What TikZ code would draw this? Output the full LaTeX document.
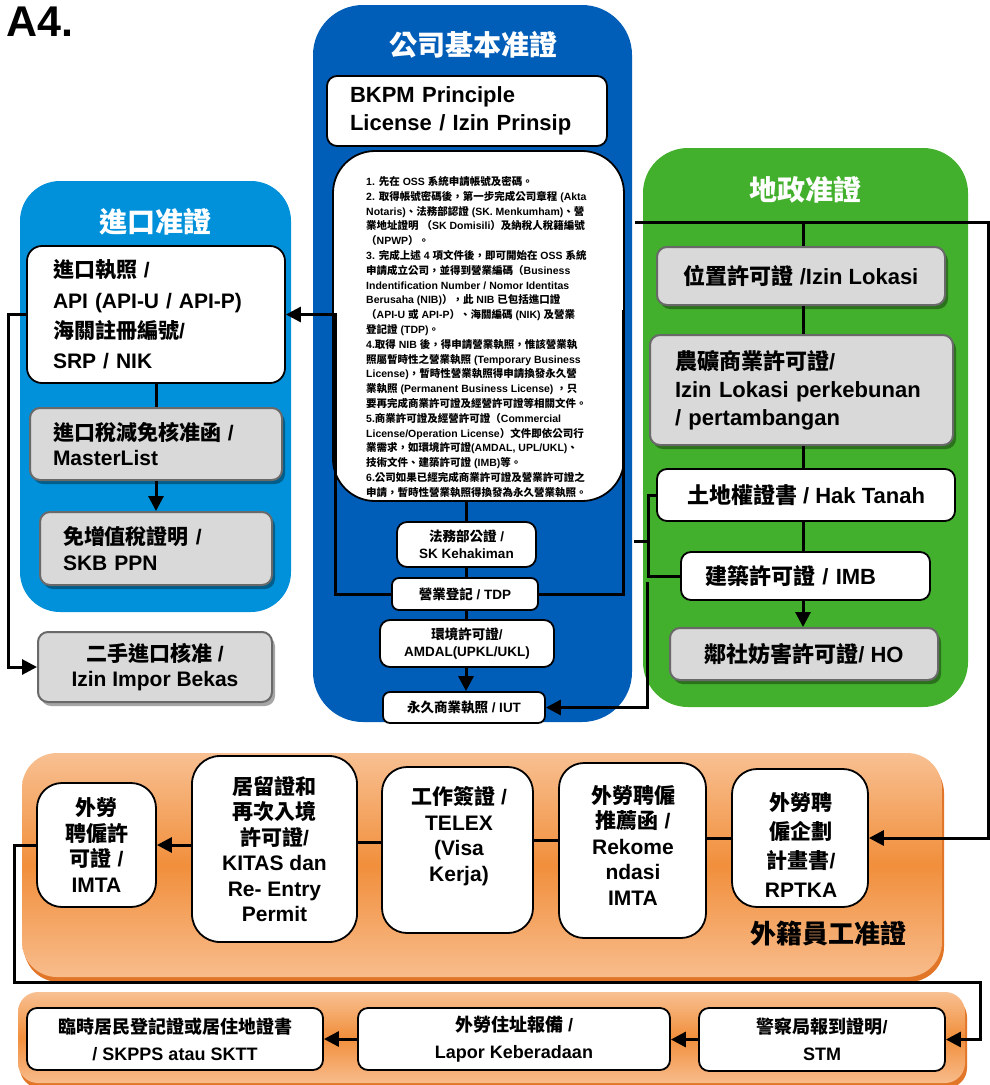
\documentclass[tikz,border=0pt]{standalone}
\usepackage{fontspec}
\setmainfont{Liberation Sans}
\newfontfamily\cjkfont{Noto Sans CJK TC}
\newXeTeXintercharclass\CJKcls
\newcount\cjkcnt
\cjkcnt="2E80
\loop
  \XeTeXcharclass\cjkcnt=\CJKcls
  \advance\cjkcnt by 1
\ifnum\cjkcnt<"A000 \repeat
\cjkcnt="FF00
\loop
  \XeTeXcharclass\cjkcnt=\CJKcls
  \advance\cjkcnt by 1
\ifnum\cjkcnt<"FFF0 \repeat
\XeTeXinterchartoks 0 \CJKcls = {\begingroup\cjkfont}
\XeTeXinterchartoks 4095 \CJKcls = {\begingroup\cjkfont}
\XeTeXinterchartoks \CJKcls 0 = {\endgroup}
\XeTeXinterchartoks \CJKcls 4095 = {\endgroup}
\XeTeXinterchartokenstate=1
\usetikzlibrary{arrows.meta,shadows,calc}
\definecolor{cblue}{RGB}{0,94,184}
\definecolor{lblue}{RGB}{0,145,218}
\definecolor{gpan}{RGB}{66,176,44}
\definecolor{gfill}{RGB}{217,217,217}
\definecolor{gline}{RGB}{105,105,105}
\definecolor{oTop}{RGB}{248,192,146}
\definecolor{oMid}{RGB}{241,143,60}
\definecolor{oBot}{RGB}{248,188,140}
\definecolor{oRim}{RGB}{226,118,40}
\begin{document}
\begin{tikzpicture}[x=1pt,y=-1pt,
  conn/.style={line width=3pt, black},
  arr/.style={conn, -{Triangle[length=15pt,width=15pt]}},
  wbox/.style={draw=black, line width=1.8pt, fill=white, rounded corners=10pt, inner sep=0pt},
  gbox/.style={draw=gline, line width=2pt, fill=gfill, rounded corners=10pt, inner sep=0pt,
     drop shadow={shadow xshift=3pt,shadow yshift=-4pt,opacity=.35,fill=black}},
  panel/.style={inner sep=0pt, draw=none},
  ttl/.style={text=white, font=\bfseries\fontsize{28}{30}\selectfont},
  tb21/.style={font=\bfseries\fontsize{21}{25.5}\selectfont},
  tb22/.style={font=\bfseries\fontsize{22}{28}\selectfont},
  tb13/.style={font=\bfseries\fontsize{13.5}{17}\selectfont},
  tb18/.style={font=\bfseries\fontsize{18}{27}\selectfont},
  obox/.style={panel, top color=oTop, bottom color=oBot, middle color=oMid,
     drop shadow={shadow xshift=2pt,shadow yshift=-5pt,opacity=1,fill=oRim}}
]
\useasboundingbox (0,0) rectangle (990,1085);
\fill[white] (0,0) rectangle (990,1085);

\node[anchor=west, font=\bfseries\fontsize{43}{43}\selectfont] (a4) at (3,22) {A4.};

% ---------- panels ----------
\node[panel, fill=cblue, rounded corners=50pt, minimum width=319pt, minimum height=717pt] (bp) at (472.5,363.5) {};
\node[panel, fill=lblue, rounded corners=40pt, minimum width=271pt, minimum height=431pt] (lp) at (155.5,396.5) {};
\node[panel, fill=gpan, rounded corners=45pt, minimum width=325pt, minimum height=559pt] (gp) at (805.5,427.5) {};
\node[obox, rounded corners=35pt, minimum width=920pt, minimum height=224pt] (wp) at (482,865) {};
\node[obox, rounded corners=20pt, minimum width=947pt, minimum height=91pt] (sp) at (491.5,1037.5) {};

\node[ttl] (ctitle) at (473,45) {公司基本准證};
\node[ttl] (ltitle) at (155,222) {進口准證};
\node[ttl] (gtitle) at (805,190) {地政准證};
\node[font=\bfseries\fontsize{26}{28}\selectfont] (wlab) at (828,933) {外籍員工准證};

% ---------- central column ----------
\node[wbox, tb22, minimum width=280pt, minimum height=70pt, text width=234pt, align=left] (bkpm) at (467,111)
  {BKPM Principle\\License / Izin Prinsip};
\node[wbox, rounded corners=42pt, minimum width=291pt, minimum height=350pt] (txtbox) at (478.5,326) {};
\node[anchor=west, inner sep=0pt, align=left, font=\bfseries\fontsize{10.5}{14.8}\selectfont] (txt) at (366,337) {%
1. 先在 OSS 系統申請帳號及密碼。\\
2. 取得帳號密碼後，第一步完成公司章程 (Akta\\
Notaris)、法務部認證 (SK. Menkumham)、營\\
業地址證明 （SK Domisili）及納稅人稅籍編號\\
（NPWP）。\\
3. 完成上述 4 項文件後，即可開始在 OSS 系統\\
申請成立公司，並得到營業編碼（Business\\
Indentification Number / Nomor Identitas\\
Berusaha (NIB)），此 NIB 已包括進口證\\
（API-U 或 API-P）、海關編碼 (NIK) 及營業\\
登記證 (TDP)。\\
4.取得 NIB 後，得申請營業執照，惟該營業執\\
照屬暫時性之營業執照 (Temporary Business\\
License)，暫時性營業執照得申請換發永久營\\
業執照 (Permanent Business License) ，只\\
要再完成商業許可證及經營許可證等相關文件。\\
5.商業許可證及經營許可證（Commercial\\
License/Operation License）文件即依公司行\\
業需求，如環境許可證(AMDAL, UPL/UKL)、\\
技術文件、建築許可證 (IMB)等。\\
6.公司如果已經完成商業許可證及營業許可證之\\
申請，暫時性營業執照得換發為永久營業執照。};
\node[wbox, tb13, minimum width=139pt, minimum height=45pt, align=center] (fawu) at (466.5,544.5) {法務部公證 /\\SK Kehakiman};
\node[wbox, tb13, rounded corners=7pt, minimum width=146pt, minimum height=32pt] (tdp) at (465,594) {營業登記 / TDP};
\node[wbox, tb13, minimum width=174pt, minimum height=47pt, align=center] (amdal) at (467,643.5) {環境許可證/\\AMDAL(UPKL/UKL)};
\node[wbox, tb13, rounded corners=7pt, minimum width=162pt, minimum height=31pt] (iut) at (464,707.5) {永久商業執照 / IUT};

% ---------- left column ----------
\node[wbox, rounded corners=15pt, minimum width=258pt, minimum height=137pt, text width=206pt, align=left,
  font=\bfseries\fontsize{21}{30.3}\selectfont] (api) at (156,314.5)
  {進口執照 /\\API (API-U / API-P)\\海關註冊編號/\\SRP / NIK};
\node[gbox, tb21, minimum width=252pt, minimum height=72pt, text width=206pt, align=left] (ml) at (156,444)
  {進口稅減免核准函 /\\MasterList};
\node[gbox, tb21, minimum width=232pt, minimum height=73pt, text width=186pt, align=left] (skb) at (156,548.5)
  {免增值稅證明 /\\SKB PPN};
\node[gbox, tb21, minimum width=234pt, minimum height=70pt, align=center] (bekas) at (155,667)
  {二手進口核准 /\\Izin Impor Bekas};

% ---------- green column ----------
\node[gbox, tb22, minimum width=288pt, minimum height=58pt] (lok) at (801,276) {位置許可證 /Izin Lokasi};
\node[gbox, tb22, minimum width=303pt, minimum height=110pt, text width=253pt, align=left] (kebun) at (801.5,390)
  {農礦商業許可證/\\Izin Lokasi perkebunan\\/ pertambangan};
\node[wbox, tb22, minimum width=298pt, minimum height=52pt] (tanah) at (806,495) {土地權證書 / Hak Tanah};
\node[wbox, tb22, minimum width=249pt, minimum height=48pt, text width=201pt, align=left] (imb) at (805.5,576) {建築許可證 / IMB};
\node[gbox, tb22, minimum width=268pt, minimum height=52pt] (ho) at (804,654) {鄰社妨害許可證/ HO};

% ---------- foreign worker panel ----------
\node[wbox, tb21, rounded corners=25pt, minimum width=119pt, minimum height=124pt, align=center] (w1) at (96.5,845)
  {外勞\\聘僱許\\可證 /\\IMTA};
\node[wbox, tb21, rounded corners=28pt, minimum width=165pt, minimum height=186pt, align=center] (w2) at (274.5,849)
  {居留證和\\再次入境\\許可證/\\KITAS dan\\Re- Entry\\Permit};
\node[wbox, rounded corners=25pt, minimum width=151pt, minimum height=166pt] (w3) at (457.5,850) {};
\node[tb21, align=center, inner sep=0pt] (w3t) at (459,836) {工作簽證 /\\TELEX\\(Visa\\Kerja)};
\node[wbox, rounded corners=25pt, minimum width=147pt, minimum height=175pt] (w4) at (632.5,850.5) {};
\node[tb21, align=center, inner sep=0pt] (w4t) at (633,845) {外勞聘僱\\推薦函 /\\Rekome\\ndasi\\IMTA};
\node[wbox, rounded corners=25pt, minimum width=136pt, minimum height=138pt] (w5) at (800,838) {};
\node[align=center, inner sep=0pt, font=\bfseries\fontsize{21}{29}\selectfont] (w5t) at (801,845) {外勞聘\\僱企劃\\計畫書/\\RPTKA};

% ---------- bottom panel ----------
\node[wbox, tb18, minimum width=296pt, minimum height=62pt, align=center] (sktt) at (175,1039)
  {臨時居民登記證或居住地證書\\/ SKPPS atau SKTT};
\node[wbox, tb18, minimum width=312pt, minimum height=62pt, align=center] (lapor) at (514,1039)
  {外勞住址報備 /\\Lapor Keberadaan};
\node[wbox, tb18, minimum width=246pt, minimum height=63pt, align=center] (stm) at (822,1039.5)
  {警察局報到證明/\\STM};

% ---------- connectors ----------
\coordinate (cx) at (466,0);
\draw[conn] (cx |- txtbox.south) -- (cx |- fawu.north);
\draw[conn] (cx |- fawu.south) -- (cx |- tdp.north);
\draw[conn] (cx |- tdp.south) -- (cx |- amdal.north);
\draw[arr] (cx |- amdal.south) -- (cx |- iut.north);

\coordinate (lx) at (335,0);
\draw[arr] (tdp.west) -- (lx |- tdp.west) -- (lx |- api.east) -- (api.east);
\coordinate (tdpup) at (623,310);
\draw[conn] (tdp.east) -| (tdpup);

\draw[conn] (api.south) -- (api.south |- ml.north);
\draw[arr] (ml.south) -- (ml.south |- skb.north);
\coordinate (lx2) at (8,0);
\draw[arr] (api.west) -- (lx2 |- api.west) -- (lx2 |- bekas.west) -- (bekas.west);

\coordinate (gx) at (803,0);
\coordinate (rs) at (635,222);
\coordinate (rc) at (988,222);
\draw[arr] (rs) -- (rc) |- (w5.east);
\draw[conn] (gx |- rs) -- (gx |- lok.north);
\draw[conn] (gx |- lok.south) -- (gx |- kebun.north);
\draw[conn] (gx |- kebun.south) -- (gx |- tanah.north);
\draw[conn] (gx |- tanah.south) -- (gx |- imb.north);
\draw[arr] (gx |- imb.south) -- (gx |- ho.north);

\coordinate (bx) at (648,0);
\draw[conn] (tanah.west) -- (bx |- tanah.west) -- (bx |- imb.west) -- (imb.west);
\coordinate (stub) at (634,541);
\draw[conn] (stub) -- (bx |- stub);
\coordinate (iuttop) at (647,582);
\draw[arr] (iuttop) |- (iut.east);

\coordinate (h40) at (0,840);
\coordinate (h42) at (0,842);
\coordinate (h45) at (0,845);
\draw[conn] (w5.west) -- (w5.west -| w4.east);
\draw[conn] (w4.west |- h40) -- (w3.east |- h40);
\draw[conn] (w3.west |- h42) -- (w2.east |- h42);
\draw[arr] (w2.west |- h45) -- (w1.east |- h45);

\coordinate (bendA) at (14,982);
\coordinate (bendB) at (980,982);
\draw[arr] (w1.west) -| (bendA) -- (bendB) |- (stm.east);
\draw[arr] (stm.west) -- (stm.west -| lapor.east);
\draw[arr] (lapor.west) -- (lapor.west -| sktt.east);
\end{tikzpicture}
\end{document}
